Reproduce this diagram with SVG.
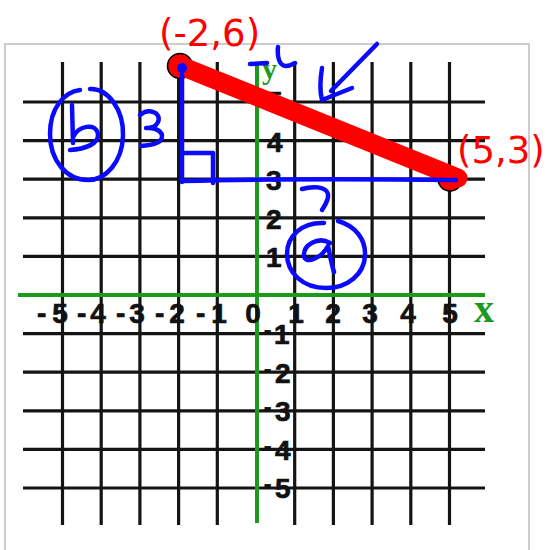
<svg xmlns="http://www.w3.org/2000/svg" width="547" height="550" viewBox="0 0 547 550">
<style>
.g{stroke:#141414;stroke-width:3.2;fill:none}
.ax{stroke:#1c9a1c;stroke-width:4;fill:none}
.n{font-family:"Liberation Sans",Arial,sans-serif;font-weight:bold;font-size:28px;fill:#111;stroke:#111;stroke-width:0.7}
.nm{font-size:22px}
.b{stroke:#0a0aff;stroke-width:4.5;fill:none;stroke-linecap:round;stroke-linejoin:round}
.r{font-family:"DejaVu Sans",sans-serif;font-size:37px;fill:#ff0000}
.axl{font-family:"Liberation Serif",serif;font-weight:bold;fill:#1c9a1c}
</style>
<rect width="547" height="550" fill="#fff"/>
<rect x="5" y="44" width="524" height="520" fill="#fff" stroke="#bdbdbd" stroke-width="1.5"/>
<g id="grid">
<path class="g" d="M62.5,62V525M101.2,62V525M139.9,62V525M178.6,62V525M217.3,62V525M294.7,62V525M333.4,62V525M372.1,62V525M410.8,62V525M449.5,62V525"/>
<path class="g" d="M23,102H485M23,140.6H485M23,179.2H485M23,217.8H485M23,256.4H485M23,333.6H485M23,372.2H485M23,410.8H485M23,449.4H485M23,488H485"/>
<path class="ax" d="M18,295H485M257,64V523"/>
</g>
<g id="axis-labels">
<text class="axl" x="474" y="322" font-size="40">x</text>
<text class="axl" x="262" y="79" font-size="30">y</text>
<g class="n">
<text x="37" y="323" letter-spacing="6">-5</text>
<text x="77" y="323" letter-spacing="4">-4</text>
<text x="116" y="323" letter-spacing="4">-3</text>
<text x="155" y="323" letter-spacing="5">-2</text>
<text x="196" y="323" letter-spacing="6">-1</text>
<text x="253" y="323" text-anchor="middle">0</text>
<text x="296" y="323" text-anchor="middle">1</text>
<text x="333" y="323" text-anchor="middle">2</text>
<text x="370" y="323" text-anchor="middle">3</text>
<text x="408" y="323" text-anchor="middle">4</text>
<text x="450" y="323" text-anchor="middle">5</text>
<text x="267" y="111">5</text>
<text x="267" y="152">4</text>
<text x="266" y="190">3</text>
<text x="266" y="229">2</text>
<text x="266" y="267">1</text>
<text x="264" y="337"><tspan class="nm">-</tspan><tspan x="274" y="344">1</tspan></text>
<text x="264" y="376"><tspan class="nm">-</tspan><tspan x="275" y="383">2</tspan></text>
<text x="264" y="414"><tspan class="nm">-</tspan><tspan x="275" y="421">3</tspan></text>
<text x="264" y="453"><tspan class="nm">-</tspan><tspan x="275" y="460">4</tspan></text>
<text x="264" y="491"><tspan class="nm">-</tspan><tspan x="275" y="498">5</tspan></text>
</g>
</g>
<g id="segment">
<circle cx="180" cy="66" r="12.5" fill="#ff0000" stroke="#000" stroke-width="1.5"/>
<circle cx="450" cy="179" r="12" fill="#ff0000" stroke="#000" stroke-width="1.5"/>
<line x1="181" y1="66" x2="458" y2="178" stroke="#ff0000" stroke-width="19" stroke-linecap="round"/>
<text class="r" x="159" y="46">(-2,6)</text>
<text class="r" x="457" y="163">(5,3)</text>
</g>
<g id="annotations">
<circle cx="182" cy="68" r="5" fill="#0a0aff"/>
<path class="b" d="M182,70V182M182,181C260,179 360,179 456,180"/>
<path class="b" d="M183,153H213V183"/>
<path class="b" d="M250,64L267,63M278,47C277,56 279,66 286,66C290,66 293,64 295,63"/>
<path class="b" d="M377,44L331,91M322,68C320,80 320,92 322,100L352,88"/>
<path class="b" d="M90,89C108,88 124,110 123,136C122,162 106,180 88,180C66,180 50,160 50,134C50,108 64,92 80,90"/>
<path class="b" d="M72,105L73,143M73,137C78,126 96,122 98,134C99,144 85,149 70,150"/>
<path class="b" d="M140,115C148,108 162,112 158,122C156,127 150,128 146,128C158,127 166,134 160,141C154,146 146,145 141,146"/>
<path class="b" d="M302,189C312,186 326,186 328,194C329,200 325,205 322,210"/>
<path class="b" d="M338,221C356,226 366,240 365,256C364,274 348,288 326,288C303,288 287,273 287,254C287,236 302,222 324,223"/>
<path class="b" d="M330,243C318,236 303,245 304,256C305,264 320,260 328,246C330,255 331,262 334,272"/>
</g>
</svg>
